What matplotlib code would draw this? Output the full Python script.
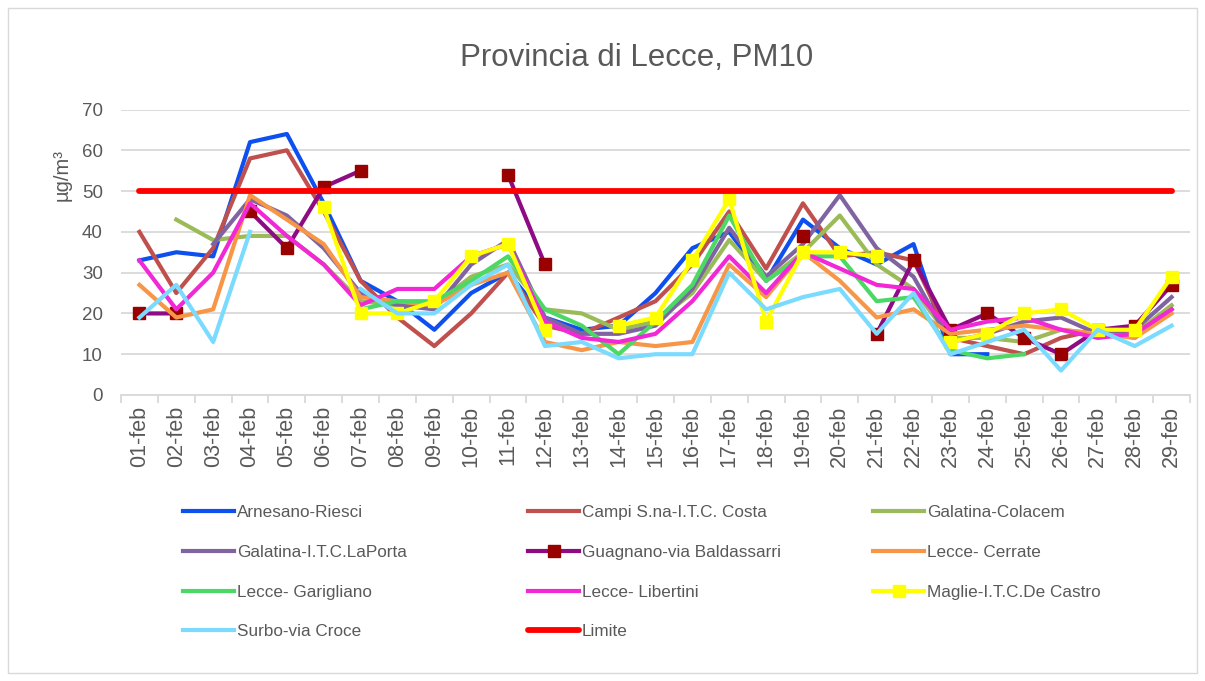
import numpy as np
import matplotlib
matplotlib.use("Agg")
import matplotlib.pyplot as plt
from matplotlib.patches import Rectangle

nan = np.nan

days = ['01-feb', '02-feb', '03-feb', '04-feb', '05-feb', '06-feb', '07-feb', '08-feb',
        '09-feb', '10-feb', '11-feb', '12-feb', '13-feb', '14-feb', '15-feb', '16-feb',
        '17-feb', '18-feb', '19-feb', '20-feb', '21-feb', '22-feb', '23-feb', '24-feb',
        '25-feb', '26-feb', '27-feb', '28-feb', '29-feb']

arnesano = [33, 35, 34, 62, 64, 47, 28, 23, 16, 25, 30, 19, 16, 17, 25, 36, 40, 28, 43, 36,
            32, 37, 10, 10, nan, nan, nan, nan, nan]
campi = [40, 25, 36, 58, 60, 45, 28, 19, 12, 20, 30, 17, 15, 19, 23, 32, 45, 31, 47, 34,
         35, 33, 14, 12, 10, 14, 16, 14, 21]
colacem = [nan, 43, 38, 39, 39, 32, 23, 22, 22, 29, 32, 21, 20, 16, 18, 25, 38, 28, 35, 44,
           32, 26, 14, 14, 13, 16, 15, 15, 22]
laporta = [nan, nan, 37, 48, 44, 36, 25, 22, 21, 32, 38, 19, 15, 15, 17, 26, 41, 29, 37, 49,
           36, 29, 13, 15, 18, 19, 15, 16, 24]
guagnano = [20, 20, nan, 45, 36, 51, 55, nan, nan, nan, 54, 32, nan, nan, nan, nan, nan, nan,
            39, nan, 15, 33, 16, 20, 14, 10, 16, 17, 27]
cerrate = [27, 19, 21, 49, 43, 37, 24, 23, 22, 27, 30, 13, 11, 13, 12, 13, 32, 24, 35, 28,
           19, 21, 15, 16, 17, 16, 15, 14, 20]
garigliano = [nan, nan, nan, nan, nan, nan, 21, 23, 23, 28, 34, 21, 17, 10, 18, 27, 44, 28,
              34, 34, 23, 24, 11, 9, 10, nan, nan, nan, nan]
libertini = [33, 21, 30, 47, 39, 32, 22, 26, 26, 34, 37, 18, 14, 13, 15, 23, 34, 25, 35, 31,
             27, 26, 16, 18, 19, 16, 14, 15, 21]
maglie = [nan, nan, nan, nan, nan, 46, 20, 20, 23, 34, 37, 16, nan, 17, 19, 33, 48, 18, 35,
          35, 34, nan, 13, 15, 20, 21, 16, 16, 29]
surbo = [19, 27, 13, 40, nan, nan, 26, 20, 20, 27, 32, 12, 13, 9, 10, 10, 30, 21, 24, 26,
         15, 25, 10, 13, 16, 6, 16, 12, 17]
limite = [50, 50, 50, 50, 50, 50, 50, 50, 50, 50, 50, 50, 50, 50, 50, 50, 50, 50, 50, 50,
          50, 50, 50, 50, 50, 50, 50, 50, 50]

names = ['Arnesano-Riesci', 'Campi S.na-I.T.C. Costa', 'Galatina-Colacem',
         'Galatina-I.T.C.LaPorta', 'Guagnano-via Baldassarri', 'Lecce- Cerrate',
         'Lecce- Garigliano', 'Lecce- Libertini', 'Maglie-I.T.C.De Castro',
         'Surbo-via Croce', 'Limite']
series = [arnesano, campi, colacem, laporta, guagnano, cerrate, garigliano, libertini,
          maglie, surbo, limite]
colors = ['#0E4FF0', '#C0504D', '#9BBB59', '#8064A2', '#8E0B84', '#F79646', '#4BD865',
          '#F227D6', '#FFFF00', '#7ADBFF', '#FF0000']

plt.rcParams['font.family'] = ['Liberation Sans', 'DejaVu Sans']

TXT = '#595959'
W, H = 1205, 681
fig = plt.figure(figsize=(W / 100, H / 100), dpi=100)
fig.patch.set_facecolor('white')
fig.add_artist(Rectangle((8 / W, 8 / H), 1189 / W, 665 / H, transform=fig.transFigure,
                         fill=False, edgecolor='#D9D9D9', linewidth=1.0))

ax = fig.add_axes([121 / W, 1 - 395 / H, 1069 / W, 285.5 / H])
x = np.arange(len(days))
handles = []
for name, vals, col in zip(names, series, colors):
    v = np.array(vals, dtype=float)
    if name.startswith('Guagnano'):
        h, = ax.plot(x, v, color=col, lw=3.0, marker='s', markersize=9,
                     markerfacecolor='#990000', markeredgecolor='#990000', label=name)
    elif name.startswith('Maglie'):
        h, = ax.plot(x, v, color=col, lw=3.0, marker='s', markersize=9,
                     markerfacecolor=col, markeredgecolor=col, label=name)
    elif name == 'Limite':
        h, = ax.plot(x, v, color=col, lw=4.2, solid_capstyle='round', label=name)
    else:
        h, = ax.plot(x, v, color=col, lw=3.0, label=name)
    handles.append(h)

ax.set_xlim(-0.5, len(days) - 0.5)
ax.set_ylim(0, 70)
ax.set_yticks(range(0, 71, 10))
ax.yaxis.grid(True, color='#D9D9D9', lw=1.3)
ax.set_axisbelow(True)
for s in ['left', 'right', 'top']:
    ax.spines[s].set_visible(False)
ax.spines['bottom'].set_color('#D9D9D9')
ax.spines['bottom'].set_linewidth(1.3)
ax.tick_params(axis='y', length=0, pad=13, labelsize=13.5, labelcolor=TXT)
ax.set_xticks(x)
ax.set_xticklabels(days, rotation=90, fontsize=15.5, color=TXT)
ax.tick_params(axis='x', which='major', length=0, pad=8)
ax.set_xticks(np.arange(-0.5, len(days)), minor=True)
ax.tick_params(axis='x', which='minor', length=6, width=1.3, color='#D9D9D9')

ax.set_ylabel('µg/m³', fontsize=14.5, color=TXT)
ax.yaxis.set_label_coords((72 - 121) / 1069, (395 - 175) / 285.5)

fig.text(637 / W, 1 - 58 / H, 'Provincia di Lecce, PM10', ha='center', va='center',
         fontsize=22.5, color=TXT)

cols = [[0, 3, 6, 9], [1, 4, 7, 10], [2, 5, 8]]
xs = [183, 528, 873]
for ci, xp in zip(cols, xs):
    fig.legend([handles[i] for i in ci], [names[i] for i in ci], loc='upper left',
               bbox_to_anchor=(xp / W, 1 - 505 / H), frameon=False, fontsize=12.3,
               handlelength=3.0, handletextpad=0.15, labelspacing=1.45,
               borderpad=0, borderaxespad=0, numpoints=1, labelcolor=TXT)

fig.savefig('out.png', dpi=100, facecolor='white')
